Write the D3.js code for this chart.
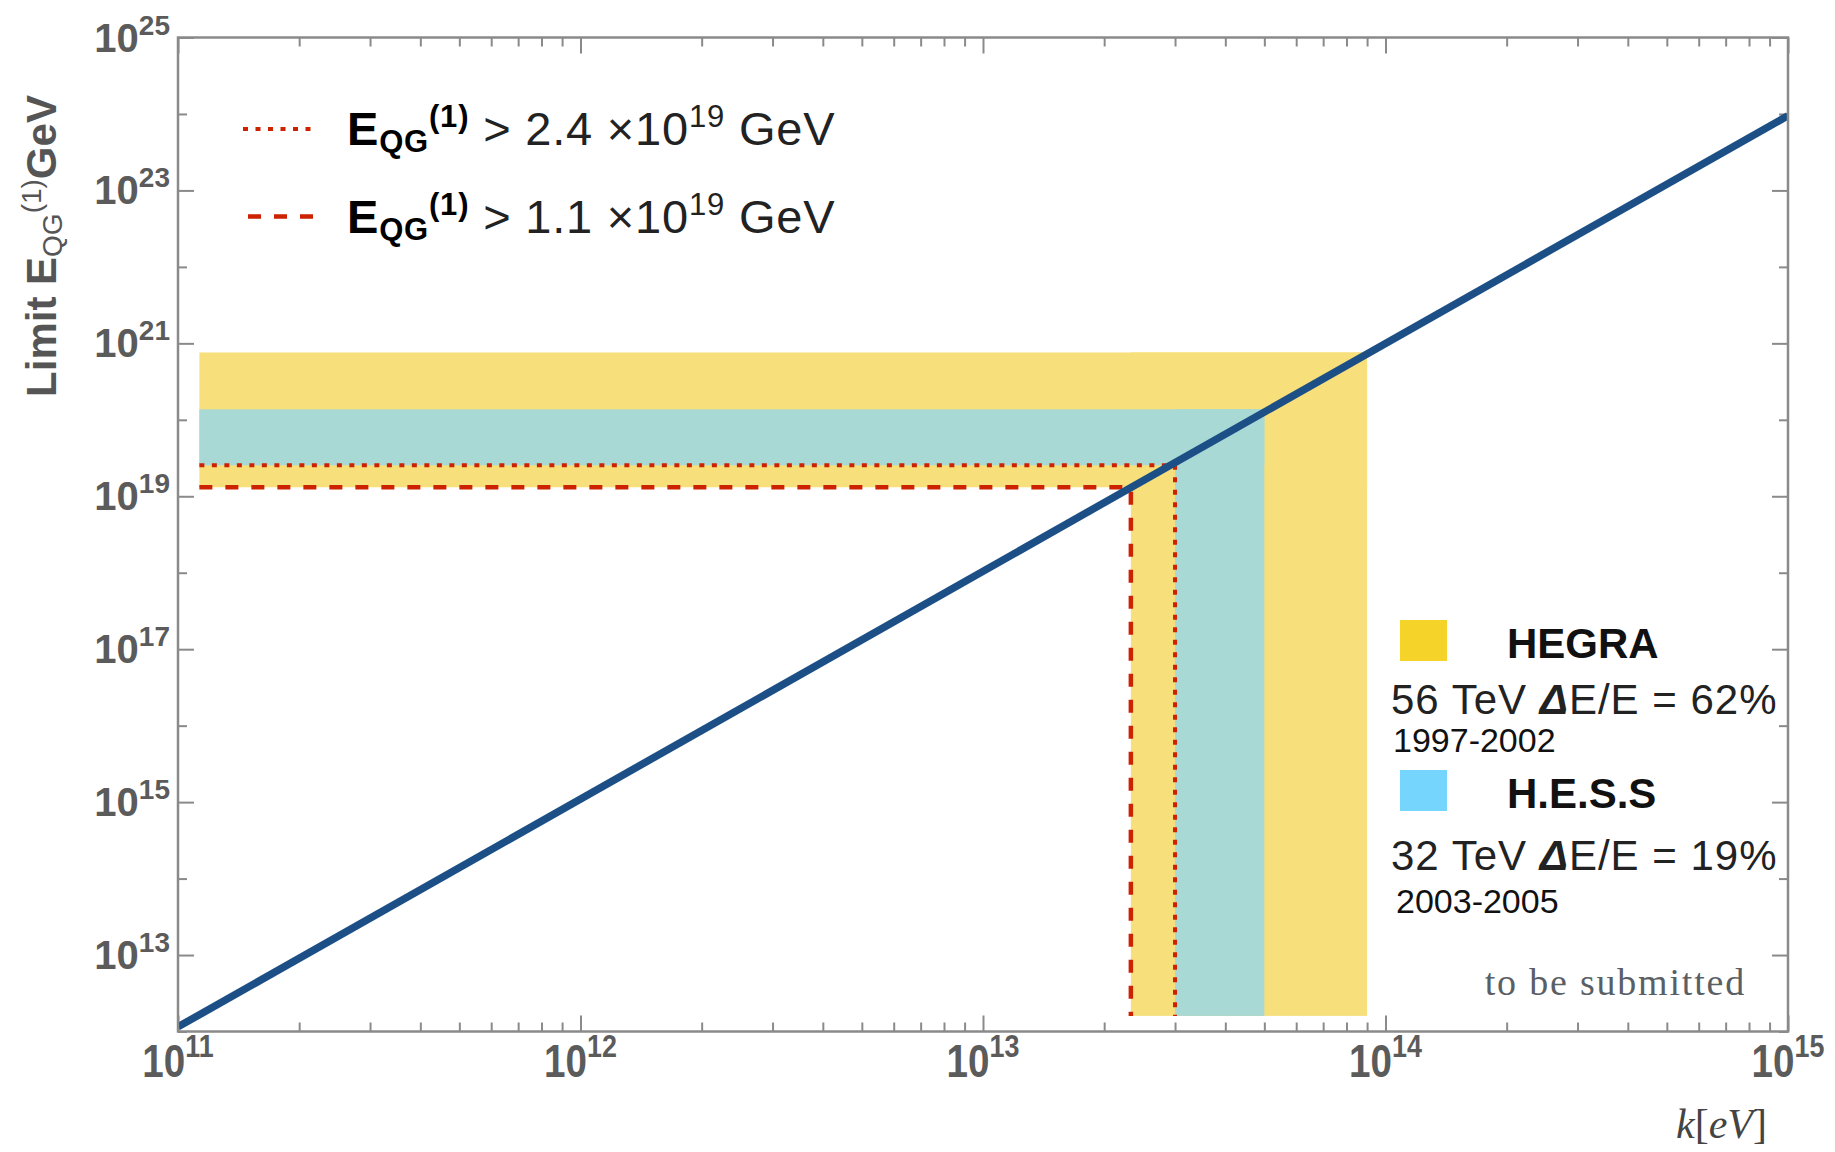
<!DOCTYPE html>
<html>
<head>
<meta charset="utf-8">
<script src="https://cdn.jsdelivr.net/npm/d3@7"></script>
<style>
body { margin: 0; background: #fff; }
text { white-space: pre; }
</style>
</head>
<body>
<div id="chart"></div>
<script>
// ---- data ----
var xLabelExp = [11, 12, 13, 14, 15];
var yLabelExp = [13, 15, 17, 19, 21, 23, 25];
var lineK = [1e11, 1e15];
var lineE = [1.15e12, 9.5e23];
// band: [kLeft, kCorner, kRight, eBottom, eTop, eFloor]
var hegraBand = [1.13e11, 2.33e13, 9.0e13, 1.31e19, 7.6e20, 1.6e12];
var hessBand = [1.13e11, 3.0e13, 5.0e13, 2.54e19, 1.37e20, 1.6e12];
// limit: [kStart, kCross, E, eFloor]
var limitDashed = [1.13e11, 2.33e13, 1.31e19, 1.6e12];
var limitDotted = [1.13e11, 3.0e13, 2.54e19, 1.6e12];
var limitLabels = ["2.4", "1.1"];
var detNames = ["HEGRA", "H.E.S.S"];
var detEnergy = ["56", "32"];
var detRes = ["62%", "19%"];
var detYears = ["1997-2002", "2003-2005"];

var W = 1835, H = 1152;
var margin = {top: 37.5, right: 47, bottom: 120.5, left: 178};
var width = W - margin.left - margin.right,
    height = H - margin.top - margin.bottom;

var x = d3.scaleLog().domain([1e11, 1e15]).range([margin.left, margin.left + width]);
var y = d3.scaleLog().domain([1e12, 1e25]).range([margin.top + height, margin.top]);

var svg = d3.select("#chart").append("svg")
    .attr("width", W)
    .attr("height", H)
    .style("font-family", "'Liberation Sans', Arial, sans-serif");

svg.append("clipPath").attr("id", "plotclip")
    .append("rect")
    .attr("x", margin.left).attr("y", margin.top)
    .attr("width", width).attr("height", height);

// bands (L shapes made of two rects)
function bandRects(b) {
    return [{k0: b[0], k1: b[2], e0: b[3], e1: b[4]},
            {k0: b[1], k1: b[2], e0: b[5], e1: b[4]}];
}
var bands = [{b: hegraBand, c: "#f7e07c"}, {b: hessBand, c: "#a8d9d4"}];
bands.forEach(function(band) {
    svg.append("g").selectAll("rect")
        .data(bandRects(band.b))
        .enter().append("rect")
        .attr("x", function(d) { return x(d.k0); })
        .attr("width", function(d) { return x(d.k1) - x(d.k0); })
        .attr("y", function(d) { return y(d.e1); })
        .attr("height", function(d) { return y(d.e0) - y(d.e1); })
        .attr("fill", band.c);
});

// red limit lines
var pathLine = d3.line().x(function(d) { return x(d[0]); }).y(function(d) { return y(d[1]); });
function limitPts(l) { return [[l[0], l[2]], [l[1], l[2]], [l[1], l[3]]]; }

svg.append("path")
    .attr("d", pathLine(limitPts(limitDashed)))
    .attr("fill", "none").attr("stroke", "#cc2200")
    .attr("stroke-width", 4.5).attr("stroke-dasharray", "13,13");
svg.append("path")
    .attr("d", pathLine(limitPts(limitDotted)))
    .attr("fill", "none").attr("stroke", "#cc2200")
    .attr("stroke-width", 4).attr("stroke-dasharray", "5,7.5");

// axes ticks (inward)
var majX = xLabelExp.map(function(e) { return Math.pow(10, e); });
var minX = [];
for (var d = 11; d < 15; d++) for (var m = 2; m < 10; m++) minX.push(m * Math.pow(10, d));
var longY = yLabelExp.map(function(e) { return Math.pow(10, e); });
var shortY = [];
for (var e = 12; e < 25; e += 2) shortY.push(Math.pow(10, e));

function tickAxis(axisFn, scale, vals, size, tr) {
    var g = svg.append("g")
        .attr("transform", tr)
        .call(axisFn(scale).tickValues(vals).tickSizeInner(-size).tickSizeOuter(0).tickFormat(""));
    g.select(".domain").remove();
    g.selectAll("line").attr("stroke", "#8a8a8a").attr("stroke-width", 2);
}
var bottomY = margin.top + height, rightX = margin.left + width;
tickAxis(d3.axisBottom, x, majX, 16, "translate(0," + bottomY + ")");
tickAxis(d3.axisBottom, x, minX, 9, "translate(0," + bottomY + ")");
tickAxis(d3.axisTop, x, majX, 16, "translate(0," + margin.top + ")");
tickAxis(d3.axisTop, x, minX, 9, "translate(0," + margin.top + ")");
tickAxis(d3.axisLeft, y, longY, 16, "translate(" + margin.left + ",0)");
tickAxis(d3.axisLeft, y, shortY, 9, "translate(" + margin.left + ",0)");
tickAxis(d3.axisRight, y, longY, 16, "translate(" + rightX + ",0)");
tickAxis(d3.axisRight, y, shortY, 9, "translate(" + rightX + ",0)");

// blue line
svg.append("path")
    .datum(lineK.map(function(k, i) { return [k, lineE[i]]; }))
    .attr("d", pathLine)
    .attr("clip-path", "url(#plotclip)")
    .attr("fill", "none")
    .attr("stroke", "#1c4f86")
    .attr("stroke-width", 7.5);

// frame
svg.append("rect")
    .attr("x", margin.left).attr("y", margin.top)
    .attr("width", width).attr("height", height)
    .attr("fill", "none").attr("stroke", "#8a8a8a").attr("stroke-width", 2.5);

// tick labels
var labColor = "#5b5b5b";
var xl = svg.append("g").selectAll("g")
    .data(xLabelExp).enter().append("g")
    .attr("transform", function(e) { return "translate(" + x(Math.pow(10, e)) + "," + 1077 + ") scale(0.84,1)"; });
var xt = xl.append("text")
    .attr("text-anchor", "middle")
    .attr("fill", labColor)
    .attr("font-weight", "bold")
    .attr("font-size", 46);
xt.append("tspan").text("10");
xt.append("tspan").attr("font-size", 32).attr("dy", -20).text(function(e) { return e; });

var yt = svg.append("g").selectAll("text")
    .data(yLabelExp).enter().append("text")
    .attr("x", 170)
    .attr("y", function(e) { return y(Math.pow(10, e)) + 14; })
    .attr("text-anchor", "end")
    .attr("fill", labColor)
    .attr("font-weight", "bold")
    .attr("font-size", 40);
yt.append("tspan").text("10");
yt.append("tspan").attr("font-size", 28).attr("dy", -17).text(function(e) { return e; });

// axis titles
var ylab = svg.append("text")
    .attr("transform", "translate(56,246) rotate(-90)")
    .attr("text-anchor", "middle")
    .attr("fill", "#555")
    .attr("font-weight", "bold")
    .attr("font-size", 42);
ylab.append("tspan").text("Limit E");
ylab.append("tspan").attr("font-size", 28).attr("font-weight", "normal").attr("dy", 6).text("QG");
ylab.append("tspan").attr("font-size", 28).attr("font-weight", "normal").attr("dy", -21).text("(1)");
ylab.append("tspan").attr("dy", 15).text("GeV");

var kl = svg.append("text")
    .attr("x", 1767).attr("y", 1138)
    .attr("text-anchor", "end")
    .attr("fill", "#444")
    .attr("font-family", "'Liberation Serif', 'DejaVu Serif', serif")
    .attr("font-size", 42);
kl.append("tspan").attr("font-style", "italic").text("k");
kl.append("tspan").text("[");
kl.append("tspan").attr("font-style", "italic").text("eV");
kl.append("tspan").text("]");

svg.append("text")
    .attr("x", 1746).attr("y", 995)
    .attr("text-anchor", "end")
    .attr("fill", "#5a5f66")
    .attr("font-family", "'Liberation Serif', 'DejaVu Serif', serif")
    .attr("font-size", 38)
    .attr("letter-spacing", 1.8)
    .text("to be submitted");

// top-left legend
var legY = [129, 216.5];
var legDash = [["5,7.5", 4, 243], ["13,13", 4.5, 248]];
limitLabels.forEach(function(v, i) {
    svg.append("line")
        .attr("x1", legDash[i][2]).attr("x2", 314)
        .attr("y1", legY[i]).attr("y2", legY[i])
        .attr("stroke", "#cc2200")
        .attr("stroke-width", legDash[i][1])
        .attr("stroke-dasharray", legDash[i][0]);
    var t = svg.append("text")
        .attr("x", 347).attr("y", legY[i] + 16)
        .attr("fill", "#222")
        .attr("font-size", 47)
        .attr("letter-spacing", 0.8);
    t.append("tspan").attr("font-weight", "bold").attr("fill", "#000").text("E");
    t.append("tspan").attr("font-weight", "bold").attr("fill", "#000").attr("font-size", 31).attr("dy", 7).text("QG");
    t.append("tspan").attr("font-weight", "bold").attr("fill", "#000").attr("font-size", 31).attr("dy", -25).text("(1)");
    t.append("tspan").attr("dy", 18).text(" > " + v + " \u00d710");
    t.append("tspan").attr("font-size", 31).attr("dy", -18).text("19");
    t.append("tspan").attr("dy", 18).text(" GeV");
});

// right legend
var swatch = ["#f5d328", "#75d5fd"];
var rowTop = [620, 770];
detNames.forEach(function(n, i) {
    var t0 = rowTop[i];
    svg.append("rect")
        .attr("x", 1400).attr("y", t0)
        .attr("width", 47).attr("height", 41)
        .attr("fill", swatch[i]);
    svg.append("text")
        .attr("x", 1507).attr("y", t0 + 38)
        .attr("fill", "#111")
        .attr("font-weight", "bold")
        .attr("font-size", 42)
        .text(n);
    var t = svg.append("text")
        .attr("x", 1391).attr("y", t0 + 94 + i * 6)
        .attr("fill", "#222")
        .attr("font-size", 42)
        .attr("letter-spacing", 1);
    t.append("tspan").text(detEnergy[i] + " TeV ");
    t.append("tspan").attr("font-weight", "bold").attr("font-style", "italic").text("\u0394");
    t.append("tspan").text("E/E = " + detRes[i]);
    svg.append("text")
        .attr("x", 1393 + i * 3).attr("y", t0 + 132 + i * 11)
        .attr("fill", "#111")
        .attr("font-size", 34)
        .text(detYears[i]);
});
</script>
</body>
</html>
